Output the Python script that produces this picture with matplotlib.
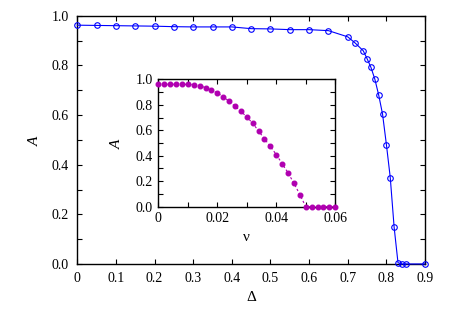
import matplotlib
matplotlib.use("Agg")
import matplotlib.pyplot as plt
from matplotlib.ticker import MultipleLocator, FormatStrFormatter

plt.rcParams['font.family'] = ['Liberation Serif', 'DejaVu Serif']
plt.rcParams['mathtext.fontset'] = 'custom'
plt.rcParams['mathtext.it'] = 'Liberation Serif:italic'
plt.rcParams['mathtext.rm'] = 'Liberation Serif'

# Main curve: A vs Delta
delta = [0.0, 0.05, 0.10, 0.15, 0.20, 0.25, 0.30, 0.35, 0.40, 0.45, 0.50, 0.55,
         0.60, 0.65, 0.70, 0.72, 0.74, 0.75, 0.76, 0.77, 0.78, 0.79, 0.80, 0.81,
         0.82, 0.83, 0.84, 0.85, 0.90]
A_main = [0.962, 0.961, 0.960, 0.959, 0.958, 0.956, 0.955, 0.955, 0.955, 0.948,
          0.947, 0.944, 0.944, 0.940, 0.915, 0.889, 0.859, 0.827, 0.792, 0.745,
          0.681, 0.604, 0.481, 0.348, 0.148, 0.005, 0.0, 0.0, 0.0]

# Inset: A vs nu
nu = [0.000, 0.002, 0.004, 0.006, 0.008, 0.010, 0.012, 0.014, 0.016, 0.018,
      0.020, 0.022, 0.024, 0.026, 0.028, 0.030, 0.032, 0.034, 0.036, 0.038,
      0.040, 0.042, 0.044, 0.046, 0.048, 0.050, 0.052, 0.054, 0.056, 0.058, 0.060]
A_inset = [0.961, 0.961, 0.961, 0.961, 0.961, 0.960, 0.958, 0.951, 0.935, 0.917,
           0.893, 0.864, 0.828, 0.789, 0.749, 0.705, 0.655, 0.595, 0.532, 0.474,
           0.409, 0.338, 0.265, 0.184, 0.095, 0.0, 0.0, 0.0, 0.0, 0.0, 0.0]

fig = plt.figure(figsize=(4.63, 3.15), dpi=100)
ax = fig.add_axes([0.167, 0.162, 0.751, 0.788])
ax.plot(delta, A_main, '-', color='#0000ff', lw=0.8, marker='o', ms=4.0,
        mfc='none', mec='#0000ff', mew=0.8, clip_on=False, zorder=3)
ax.set_xlim(0, 0.9)
ax.set_ylim(0, 1.0)
ax.xaxis.set_major_locator(MultipleLocator(0.1))
ax.xaxis.set_major_formatter(FormatStrFormatter('%g'))
ax.yaxis.set_major_locator(MultipleLocator(0.2))
ax.yaxis.set_minor_locator(MultipleLocator(0.1))
ax.yaxis.set_major_formatter(FormatStrFormatter('%.1f'))
ax.tick_params(which='both', direction='in', top=True, right=True, length=3.5,
               width=0.8, labelsize=10, pad=6)
ax.set_xlabel('Δ', fontsize=11)
ax.set_ylabel('$A$', fontsize=11, labelpad=8)
for s in ax.spines.values():
    s.set_linewidth(1.0)

ins = fig.add_axes([0.342, 0.344, 0.382, 0.404])
ins.plot(nu, A_inset, '--', color='#b000b0', lw=0.8, dashes=(2, 2), marker='o',
         ms=3.3, mfc='#b000b0', mec='#b000b0', clip_on=False, zorder=3)
ins.set_xlim(0, 0.06)
ins.set_ylim(0, 1.0)
ins.xaxis.set_major_locator(MultipleLocator(0.02))
ins.xaxis.set_minor_locator(MultipleLocator(0.01))
ins.xaxis.set_major_formatter(FormatStrFormatter('%g'))
ins.yaxis.set_major_locator(MultipleLocator(0.2))
ins.yaxis.set_minor_locator(MultipleLocator(0.1))
ins.yaxis.set_major_formatter(FormatStrFormatter('%.1f'))
ins.tick_params(which='both', direction='in', top=True, right=True, length=3.5,
                width=0.8, labelsize=10, pad=4)
ins.set_xlabel('ν', fontsize=11)
ins.set_ylabel('$A$', fontsize=11, labelpad=9)
for s in ins.spines.values():
    s.set_linewidth(1.0)

fig.savefig('out.png', dpi=100)
